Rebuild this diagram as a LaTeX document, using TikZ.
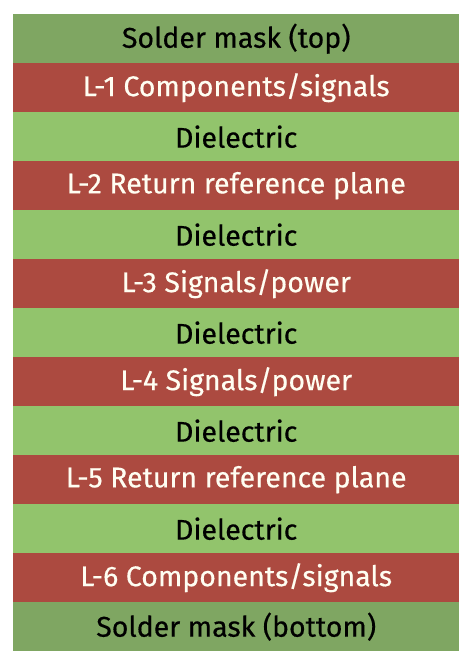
\documentclass[tikz,border=0pt]{standalone}
\usepackage{fontspec}
\newfontfamily\labfont{Fira Sans}[FakeBold=0.4]
\definecolor{maskc}{RGB}{127,166,98}
\definecolor{sigc}{RGB}{172,74,64}
\definecolor{dielc}{RGB}{146,196,108}
\begin{document}
\begin{tikzpicture}[x=1pt,y=-1pt,
  band/.style={minimum width=446pt,minimum height=49pt,inner sep=0pt,anchor=north west,font=\labfont\fontsize{28.5}{28.5}\selectfont},
  mask/.style={band,fill=maskc,text=black},
  sig/.style={band,fill=sigc,text=white!95!yellow},
  diel/.style={band,fill=dielc,text=black}]
\useasboundingbox[fill=white] (0,0) rectangle (472,665);
\node[mask] (b0) at (13,14) {Solder mask (top)};
\node[sig] (b1) at (13,63) {L-1 Components/signals};
\node[diel] (b2) at (13,112) {Dielectric};
\node[sig] (b3) at (13,161) {L-2 Return reference plane};
\node[diel] (b4) at (13,210) {Dielectric};
\node[sig] (b5) at (13,259) {L-3 Signals/power};
\node[diel] (b6) at (13,308) {Dielectric};
\node[sig] (b7) at (13,357) {L-4 Signals/power};
\node[diel] (b8) at (13,406) {Dielectric};
\node[sig] (b9) at (13,455) {L-5 Return reference plane};
\node[diel] (b10) at (13,504) {Dielectric};
\node[sig] (b11) at (13,553) {L-6 Components/signals};
\node[mask] (b12) at (13,602) {Solder mask (bottom)};
\end{tikzpicture}
\end{document}
